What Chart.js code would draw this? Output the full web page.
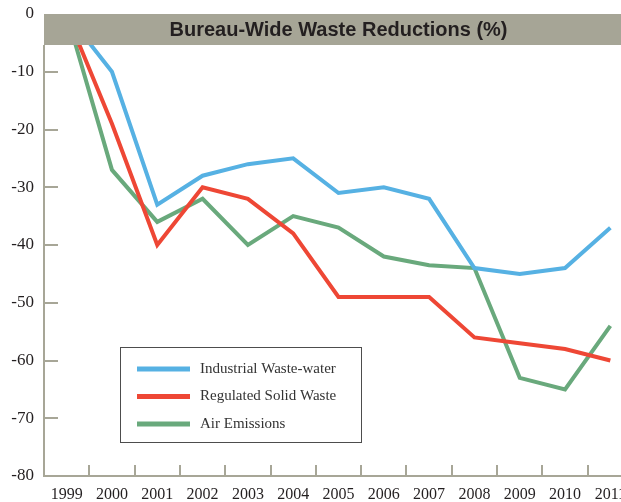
<!DOCTYPE html>
<html>
<head>
<meta charset="utf-8">
<script src="https://cdn.jsdelivr.net/npm/chart.js@4.4.0/dist/chart.umd.min.js"></script>
<style>
html, body { margin: 0; padding: 0; background: #fff; overflow: hidden; width: 621px; height: 502px; }
#wrap { width: 621px; height: 502px; overflow: hidden; }
</style>
</head>
<body>
<div id="wrap"><canvas id="wasteChart" width="650" height="502"></canvas></div>
<script>
// Dados do grafico
const years = ['1999', '2000', '2001', '2002', '2003', '2004', '2005', '2006', '2007', '2008', '2009', '2010', '2011'];
const industrialWater = [0, -10, -33, -28, -26, -25, -31, -30, -32, -44, -45, -44, -37];
const solidWaste = [0, -19, -40, -30, -32, -38, -49, -49, -49, -56, -57, -58, -60];
const airEmissions = [0, -27, -36, -32, -40, -35, -37, -42, -43.5, -44, -63, -65, -54];
const yTicks = [0, -10, -20, -30, -40, -50, -60, -70, -80];
const seriesNames = ['Industrial Waste-water', 'Regulated Solid Waste', 'Air Emissions'];
const seriesColors = ['#56b1e3', '#ee4735', '#69a97c'];
const chartTitle = 'Bureau-Wide Waste Reductions (%)';

const axisColor = '#a7a697';

// Desenha faixa do titulo, eixos e legenda
const framePlugin = {
    id: 'frame',
    afterDatasetsDraw(chart) {
        const ctx = chart.ctx;
        const area = chart.chartArea;
        const xs = chart.scales.x;
        const ys = chart.scales.y;
        ctx.save();

        // faixa do titulo
        ctx.fillStyle = '#a6a596';
        ctx.fillRect(area.left, area.top, area.right - area.left, 31);
        ctx.fillStyle = '#231f20';
        ctx.font = 'bold 20px "Liberation Sans Narrow", "Liberation Sans", Arial, sans-serif';
        ctx.textAlign = 'center';
        ctx.textBaseline = 'middle';
        ctx.fillText(chartTitle, (area.left + area.right) / 2, area.top + 16);

        // eixos
        ctx.strokeStyle = axisColor;
        ctx.lineWidth = 2;
        ctx.beginPath();
        ctx.moveTo(area.left, area.top + 31);
        ctx.lineTo(area.left, area.bottom);
        ctx.lineTo(area.right, area.bottom);
        ctx.stroke();

        // marcas do eixo y (para dentro)
        ctx.beginPath();
        yTicks.slice(1, -1).forEach(v => {
            const py = Math.round(ys.getPixelForValue(v));
            ctx.moveTo(area.left, py);
            ctx.lineTo(area.left + 14, py);
        });
        // marcas do eixo x entre as categorias
        const step = xs.getPixelForValue(1) - xs.getPixelForValue(0);
        for (let i = 1; i < years.length; i++) {
            const px = Math.round(xs.getPixelForValue(i) - step / 2);
            ctx.moveTo(px, area.bottom);
            ctx.lineTo(px, area.bottom - 11);
        }
        ctx.stroke();

        // legenda
        const box = { x: 120, y: 347, w: 241, h: 95 };
        ctx.fillStyle = '#fff';
        ctx.fillRect(box.x, box.y, box.w, box.h);
        ctx.strokeStyle = '#4d4d4d';
        ctx.lineWidth = 1;
        ctx.strokeRect(box.x + 0.5, box.y + 0.5, box.w, box.h);
        ctx.font = '15px "Liberation Serif", "DejaVu Serif", serif';
        ctx.textAlign = 'left';
        ctx.textBaseline = 'middle';
        chart.data.datasets.forEach((ds, i) => {
            const ry = box.y + 22 + i * 27.5;
            ctx.strokeStyle = ds.borderColor;
            ctx.lineWidth = 5;
            ctx.beginPath();
            ctx.moveTo(box.x + 17, ry);
            ctx.lineTo(box.x + 70, ry);
            ctx.stroke();
            ctx.fillStyle = '#333';
            ctx.fillText(ds.label, box.x + 80, ry);
        });
        ctx.restore();
    }
};

// zera o padding automatico das escalas
function noPad(scale) {
    scale.paddingTop = 0;
    scale.paddingBottom = 0;
    scale.paddingLeft = 0;
    scale.paddingRight = 0;
}

const wasteCtx = document.getElementById('wasteChart').getContext('2d');
const wasteChart = new Chart(wasteCtx, {
    type: 'line',
    data: {
        labels: years,
        datasets: [industrialWater, solidWaste, airEmissions].map((vals, i) => ({
            label: seriesNames[i],
            data: vals,
            borderColor: seriesColors[i],
            backgroundColor: seriesColors[i],
            borderWidth: 4,
            pointRadius: 0,
            tension: 0,
            fill: false
        }))
    },
    options: {
        responsive: false,
        animation: false,
        layout: { padding: { top: 14, right: 17, left: 0, bottom: 0 } },
        plugins: {
            legend: { display: false },
            title: { display: false },
            tooltip: { enabled: false }
        },
        scales: {
            x: {
                offset: true,
                grid: { display: false, drawTicks: false },
                border: { display: false },
                ticks: {
                    color: '#231f20',
                    padding: 9,
                    maxRotation: 0,
                    autoSkip: false,
                    font: { family: '"Liberation Serif", "DejaVu Serif", serif', size: 16 }
                },
                afterFit(scale) { scale.height = 26; noPad(scale); }
            },
            y: {
                min: -80,
                max: 0,
                grid: { display: false, drawTicks: false },
                border: { display: false },
                afterBuildTicks(scale) { scale.ticks = yTicks.map(v => ({ value: v })); },
                ticks: {
                    color: '#231f20',
                    padding: 10,
                    font: { family: '"Liberation Serif", "DejaVu Serif", serif', size: 17 }
                },
                afterFit(scale) { scale.width = 44; noPad(scale); }
            }
        }
    },
    plugins: [framePlugin]
});
</script>
</body>
</html>
